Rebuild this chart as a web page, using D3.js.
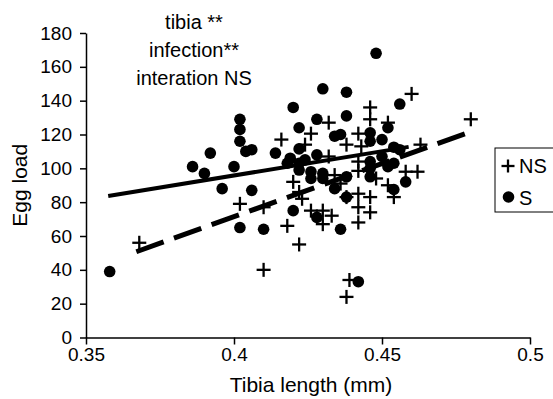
<!DOCTYPE html>
<html>
<head>
<meta charset="utf-8">
<script src="https://cdn.jsdelivr.net/npm/d3@7"></script>
<style>
  body { margin: 0; background: #fff; }
  svg { display: block; font-family: "Liberation Sans", Arial, Helvetica, sans-serif; }
</style>
</head>
<body>
<div id="chart"></div>
<script>
// tibia length (mm), egg load
const nsPoints = [
  [0.368, 56], [0.402, 79], [0.410, 77], [0.410, 40], [0.416, 117], [0.418, 66],
  [0.422, 55], [0.420, 92], [0.422, 86], [0.423, 82], [0.424, 114], [0.426, 120.5],
  [0.426, 75], [0.430, 75], [0.430, 67], [0.432, 127], [0.432, 107], [0.433, 72],
  [0.434, 96], [0.436, 91], [0.438, 114], [0.438, 24], [0.439, 34], [0.442, 120.5],
  [0.442, 104], [0.442, 98.5], [0.442, 85], [0.442, 77], [0.442, 68], [0.446, 136],
  [0.446, 129], [0.446, 83], [0.446, 74], [0.448, 94], [0.452, 127], [0.452, 90],
  [0.454, 83], [0.460, 144], [0.458, 98], [0.462, 98], [0.463, 114], [0.480, 129],
  [0.438, 83], [0.443, 113]
];
const sPoints = [
  [0.358, 39], [0.386, 101], [0.390, 97], [0.392, 109], [0.396, 88], [0.400, 101],
  [0.402, 129], [0.402, 123], [0.402, 116], [0.404, 110], [0.406, 111], [0.406, 87],
  [0.402, 65], [0.410, 64], [0.414, 109], [0.418, 103], [0.420, 136], [0.422, 124],
  [0.420, 75], [0.422, 111.5], [0.419, 106], [0.422, 103], [0.422, 99], [0.426, 98],
  [0.426, 94], [0.428, 129], [0.428, 108], [0.428, 71], [0.430, 147], [0.430, 97],
  [0.430, 94], [0.434, 88], [0.434, 119], [0.436, 120], [0.438, 145], [0.438, 131],
  [0.438, 95], [0.436, 64], [0.438, 83], [0.442, 33], [0.446, 121], [0.446, 116],
  [0.446, 104], [0.446, 95], [0.448, 168], [0.450, 117], [0.450, 107], [0.452, 124],
  [0.452, 101], [0.454, 112.5], [0.454, 103], [0.454, 87.5], [0.456, 138], [0.456, 111],
  [0.458, 92], [0.424, 105], [0.446, 100]
];
// fitted regression lines (end points)
const nsFit = [[0.367, 50.7], [0.480, 121.7]];
const sFit = [[0.3575, 83.6], [0.459, 112.7]];

const xTicks = [0.35, 0.4, 0.45, 0.5];
const yTicks = [0, 20, 40, 60, 80, 100, 120, 140, 160, 180];
const notes = ['tibia **', 'infection**', 'interation NS'];
const legendItems = ['NS', 'S'];

const width = 553, height = 399;
const margin = { top: 33, right: 23, bottom: 61.5, left: 86 };

const svg = d3.select('#chart').append('svg')
  .attr('width', width)
  .attr('height', height);

const x = d3.scaleLinear()
  .domain([0.35, 0.5])
  .range([margin.left, width - margin.right]);
const y = d3.scaleLinear()
  .domain([0, 180])
  .range([height - margin.bottom, margin.top]);

// axes
const xAxis = svg.append('g')
  .attr('transform', `translate(0,${y(0)})`)
  .call(d3.axisBottom(x).tickValues(xTicks).tickFormat(d => String(d)).tickSize(7).tickPadding(3).tickSizeOuter(0));
const yAxis = svg.append('g')
  .attr('transform', `translate(${x(0.35)},0)`)
  .call(d3.axisLeft(y).tickValues(yTicks).tickSize(6).tickPadding(8).tickSizeOuter(0));

[xAxis, yAxis].forEach(a => {
  a.select('.domain').attr('stroke', '#000').attr('stroke-width', 1.5);
  a.selectAll('.tick line').attr('stroke', '#000').attr('stroke-width', 1.5);
  a.selectAll('.tick text')
    .attr('fill', '#000')
    .style('font-size', '19px')
    .style('font-family', '"Liberation Sans", Arial, sans-serif');
});

svg.append('text')
  .attr('x', (x(0.35) + x(0.5)) / 2 + 3)
  .attr('y', 392)
  .attr('text-anchor', 'middle')
  .style('font-size', '21px')
  .text('Tibia length (mm)');

svg.append('text')
  .attr('transform', `translate(27,${(y(0) + y(180)) / 2}) rotate(-90)`)
  .attr('text-anchor', 'middle')
  .style('font-size', '21px')
  .text('Egg load');

// annotation
svg.append('g').selectAll('text')
  .data(notes)
  .join('text')
  .attr('x', 194)
  .attr('y', (d, i) => 29 + i * 28)
  .attr('text-anchor', 'middle')
  .style('font-size', '20px')
  .text(d => d);

// markers
function plus (sel, size) {
  sel.append('line').attr('x1', -size).attr('x2', size).attr('y1', 0).attr('y2', 0);
  sel.append('line').attr('x1', 0).attr('x2', 0).attr('y1', -size).attr('y2', size);
}

const nsG = svg.append('g')
  .attr('stroke', '#000')
  .attr('stroke-width', 2.3);
nsG.selectAll('g')
  .data(nsPoints)
  .join('g')
  .attr('transform', d => `translate(${x(d[0])},${y(d[1])})`)
  .call(plus, 7);

svg.append('g').selectAll('circle')
  .data(sPoints)
  .join('circle')
  .attr('cx', d => x(d[0]))
  .attr('cy', d => y(d[1]))
  .attr('r', 5.8)
  .attr('fill', '#000');

// regression lines
const line = d3.line()
  .x(d => x(d[0]))
  .y(d => y(d[1]));

svg.append('path')
  .datum(sFit)
  .attr('d', line)
  .attr('fill', 'none')
  .attr('stroke', '#000')
  .attr('stroke-width', 4);

svg.append('path')
  .datum(nsFit)
  .attr('d', line)
  .attr('fill', 'none')
  .attr('stroke', '#000')
  .attr('stroke-width', 5)
  .attr('stroke-dasharray', '29,11');

// legend
const legend = svg.append('g').attr('transform', 'translate(495,148)');
legend.append('rect')
  .attr('width', 70)
  .attr('height', 64)
  .attr('fill', '#fff')
  .attr('stroke', '#000')
  .attr('stroke-width', 1);
legend.append('g')
  .attr('transform', 'translate(13,18)')
  .attr('stroke', '#000')
  .attr('stroke-width', 2.3)
  .call(plus, 6.5);
legend.append('circle')
  .attr('cx', 13.5)
  .attr('cy', 49)
  .attr('r', 5.8)
  .attr('fill', '#000');
legend.selectAll('text')
  .data(legendItems)
  .join('text')
  .attr('x', 24)
  .attr('y', (d, i) => 25 + i * 32)
  .style('font-size', '20px')
  .text(d => d);
</script>
</body>
</html>
